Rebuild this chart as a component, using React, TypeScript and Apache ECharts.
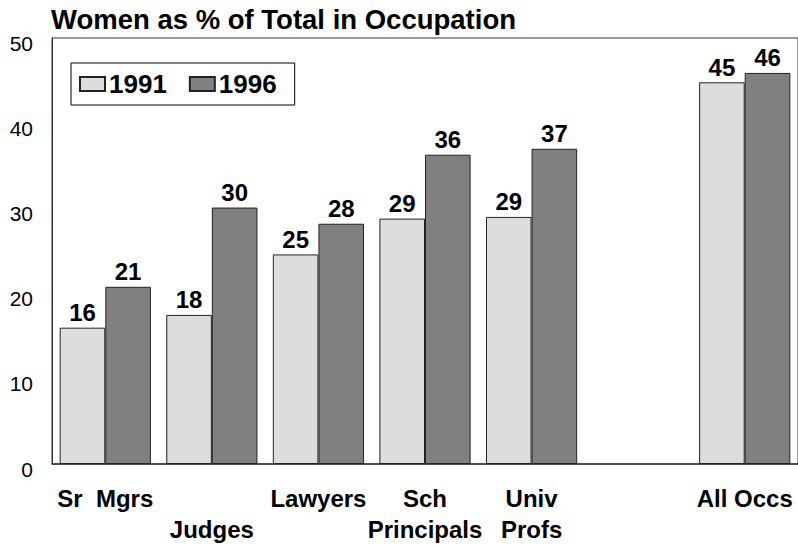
import React, { useEffect, useRef } from "react";
import * as echarts from "echarts";

const categories = ["Sr  Mgrs", "\nJudges", "Lawyers", "Sch\nPrincipals", "Univ\nProfs", "", "All Occs"];
const values1991 = [16.0, 17.5, 24.6, 28.8, 29.0, null, 44.8];
const values1996 = [20.8, 30.1, 28.2, 36.3, 37.0, null, 45.9];
const seriesNames = ["1991", "1996"];
const yTicks = { min: 0, max: 50, interval: 10 };

const FONT = "'Liberation Sans', Arial, Helvetica, sans-serif";

export default function App() {
  const ref = useRef<HTMLDivElement>(null);
  useEffect(() => {
    if (!ref.current) return;
    const chart = echarts.init(ref.current, null, { renderer: "svg" });
    const labelStyle = {
      show: true,
      position: "top",
      distance: 3,
      fontFamily: FONT,
      fontWeight: "bold",
      fontSize: 24,
      color: "#000",
      formatter: (p: any) => (p.value == null ? "" : String(Math.round(p.value))),
    };
    chart.setOption({
      animation: false,
      backgroundColor: "#fff",
      title: {
        text: "Women as % of Total in Occupation",
        left: 46,
        top: 0,
        textStyle: { fontFamily: FONT, fontWeight: "bold", fontSize: 27.5, color: "#000" },
      },
      legend: {
        left: 71,
        top: 63,
        orient: "horizontal",
        itemWidth: 25,
        itemHeight: 14,
        itemGap: 22,
        padding: [8, 18, 8, 8],
        borderColor: "#000",
        borderWidth: 1,
        backgroundColor: "#fff",
        icon: "rect",
        textStyle: { fontFamily: FONT, fontWeight: "bold", fontSize: 26, color: "#000", padding: [2, 0, 0, -1] },
        data: seriesNames,
      },
      grid: {
        left: 52,
        right: 0,
        top: 38,
        bottom: 74,
        show: true,
        borderColor: "#333",
        borderWidth: 1,
        containLabel: false,
      },
      xAxis: {
        type: "category",
        data: categories,
        axisTick: { show: false },
        axisLine: { lineStyle: { color: "#333", width: 1.5 } },
        axisLabel: {
          interval: 0,
          margin: 19,
          fontFamily: FONT,
          fontWeight: "bold",
          fontSize: 24,
          lineHeight: 31,
          color: "#000",
        },
      },
      yAxis: {
        type: "value",
        min: yTicks.min,
        max: yTicks.max,
        interval: yTicks.interval,
        splitLine: { show: false },
        axisTick: { show: false },
        axisLine: { show: true, lineStyle: { color: "#333", width: 1 } },
        axisLabel: {
          margin: 19,
          fontFamily: FONT,
          fontSize: 21,
          color: "#000",
          verticalAlign: "top",
          lineHeight: 10,
        },
      },
      series: [
        {
          name: seriesNames[0],
          type: "bar",
          data: values1991,
          barWidth: 45.6,
          barGap: "0%",
          itemStyle: { color: "#dddddd", borderColor: "#222", borderWidth: 1 },
          label: labelStyle,
        },
        {
          name: seriesNames[1],
          type: "bar",
          data: values1996,
          barWidth: 45.6,
          barGap: "0%",
          itemStyle: { color: "#808080", borderColor: "#222", borderWidth: 1 },
          label: labelStyle,
        },
      ],
    });
    return () => chart.dispose();
  }, []);
  return (
    <div
      ref={ref}
      style={{ position: "fixed", left: 0, top: 0, width: 798, height: 545, background: "#fff" }}
    />
  );
}
